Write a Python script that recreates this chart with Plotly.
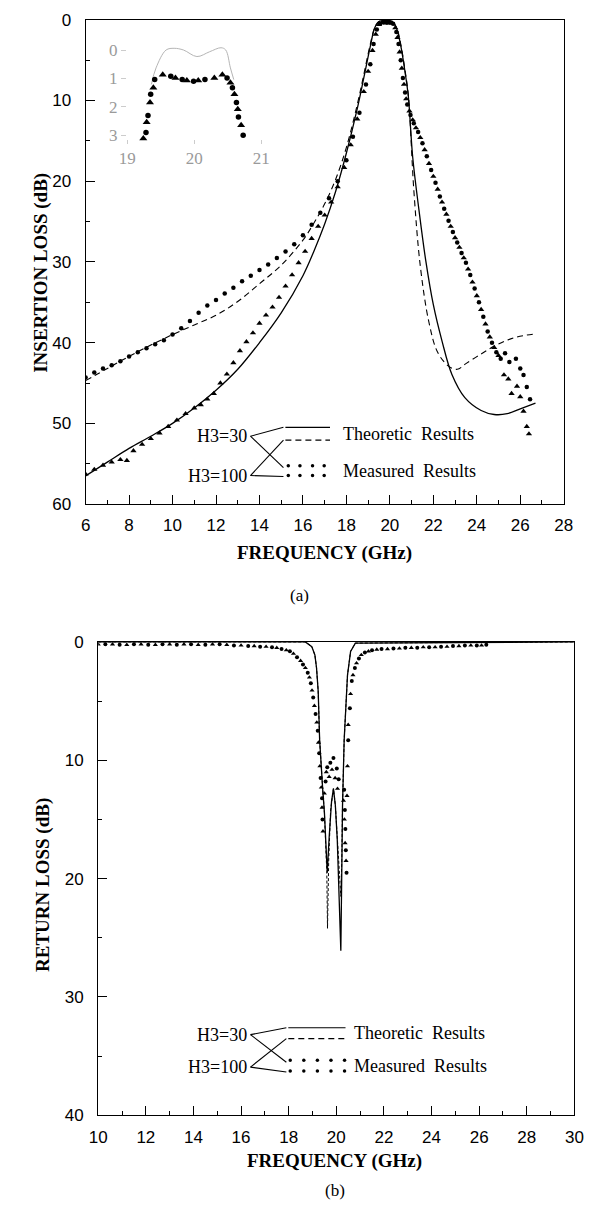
import plotly.graph_objects as go

W, H = 596, 1210

# ---------------- DATA : (a) insertion loss ----------------
il_th30_f = [6, 7, 8, 9, 10, 11, 12, 13, 14, 15, 16, 16.5, 17, 17.5, 18, 18.5, 18.8, 19.1, 19.3, 19.5, 19.8,
             20.1, 20.3, 20.5, 20.7, 20.85, 21.05, 21.35, 21.65, 22.0, 22.4, 22.85, 23.45, 24.2, 24.8, 25.4, 26.0, 26.7]
il_th30_db = [56.5, 54.8, 53.1, 51.6, 50.0, 48.1, 45.9, 43.3, 40.0, 36.3, 31.7, 28.7, 25.3, 21.3, 16.5, 11.0, 7.2,
              3.3, 1.0, 0.2, 0.1, 0.2, 1.0, 3.2, 6.5, 9.5, 17.0, 23.8, 29.8, 35.3, 39.8, 43.9, 46.8, 48.4, 48.9,
              48.8, 48.2, 47.5]

il_th100_f = [6, 7, 8, 9, 10, 11, 12, 13, 14, 15, 16, 16.5, 17, 17.5, 18, 18.5, 18.8, 19.1, 19.3, 19.5, 19.8,
              20.1, 20.3, 20.5, 20.7, 20.85, 21.1, 21.4, 21.8, 22.2, 22.7, 23.1, 23.5, 24.2, 24.9, 25.7, 26.7]
il_th100_db = [44.7, 43.2, 41.7, 40.3, 39.0, 37.8, 36.6, 34.9, 32.7, 30.4, 27.3, 25.2, 22.8, 19.8, 15.8, 10.5, 6.8,
               3.0, 1.0, 0.2, 0.1, 0.2, 0.9, 3.0, 6.3, 9.3, 21.0, 30.5, 37.5, 41.2, 42.9, 43.3, 42.6, 41.4, 40.3,
               39.4, 38.9]

il_me100_f = [6.0, 6.4, 6.8, 7.2, 7.6, 8.0, 8.4, 8.8, 9.2, 9.6, 10.0, 10.4, 10.8, 11.2, 11.6, 12.0, 12.4, 12.8,
              13.2, 13.6, 14.0, 14.4, 14.8, 15.2, 15.6, 16.0, 16.4, 16.8, 17.2, 17.6, 18.0, 18.3, 18.6, 18.9, 19.1,
              19.25, 19.4, 19.55, 19.7, 19.85, 20.0, 20.15, 20.3, 20.4, 20.5, 20.6, 20.7, 20.8, 20.95, 21.1, 21.3,
              21.5, 21.7, 21.9, 22.1, 22.3, 22.5, 22.7, 22.9, 23.1, 23.3, 23.5, 23.7, 23.9, 24.1, 24.3, 24.5, 24.7,
              24.9, 25.1, 25.3, 25.5, 25.8, 26.0, 26.15, 26.3, 26.45]
il_me100_db = [44.3, 43.7, 43.2, 42.8, 42.3, 41.7, 41.2, 40.7, 40.2, 39.7, 39.0, 38.2, 37.3, 36.3, 35.4, 34.7, 33.9,
               33.2, 32.4, 31.7, 31.0, 30.3, 29.5, 28.7, 27.8, 26.7, 25.4, 23.9, 22.1, 20.0, 17.4, 14.5, 11.5, 8.0,
               5.5, 3.0, 1.2, 0.5, 0.3, 0.3, 0.3, 0.5, 1.5, 3.0, 5.0, 7.2, 9.0, 10.5, 11.8, 12.8, 13.9, 15.3, 16.9,
               18.6, 20.2, 21.9, 23.4, 24.9, 26.3, 27.6, 28.9, 30.1, 31.6, 33.3, 35.0, 36.8, 38.6, 40.0, 41.2, 42.0,
               41.3, 42.4, 42.0, 43.2, 44.0, 45.5, 47.0]

il_me30_f = [6.0, 6.4, 6.8, 7.2, 7.6, 7.9, 8.2, 8.6, 9.0, 9.4, 9.8, 10.2, 10.6, 11.0, 11.3, 11.6, 11.9, 12.2, 12.5,
             12.8, 13.1, 13.4, 13.7, 14.0, 14.3, 14.6, 14.9, 15.2, 15.5, 15.8, 16.1, 16.4, 16.7, 17.0, 17.3, 17.6,
             17.9, 18.2, 18.5, 18.8, 19.0, 19.2, 19.35, 19.5, 19.65, 19.8, 19.95, 20.1, 20.25, 20.35, 20.45, 20.55,
             20.65, 20.75, 20.9, 21.05, 21.2, 21.4, 21.6, 21.8, 22.0, 22.2, 22.4, 22.6, 22.8, 23.0, 23.2, 23.4, 23.6,
             23.8, 24.0, 24.2, 24.4, 24.6, 24.8, 25.0, 25.25, 25.45, 25.6, 25.85, 26.0, 26.15, 26.3, 26.4]
il_me30_db = [56.3, 55.7, 55.2, 54.8, 54.5, 54.6, 53.4, 52.6, 51.9, 51.2, 50.4, 49.6, 48.8, 48.1, 47.7, 47.0, 46.3,
              45.0, 43.9, 42.5, 41.0, 39.9, 38.8, 37.6, 36.6, 35.6, 34.4, 33.0, 31.6, 30.1, 28.7, 27.1, 25.6, 24.2,
              22.6, 20.7, 18.3, 15.5, 12.3, 8.9, 6.4, 3.8, 1.8, 0.6, 0.3, 0.4, 0.4, 0.4, 1.0, 2.2, 4.0, 6.0, 8.0,
              9.8, 11.3, 12.4, 13.4, 14.6, 16.1, 17.8, 19.4, 21.0, 22.6, 24.1, 25.6, 27.0, 28.2, 29.5, 30.9, 32.5,
              34.2, 35.9, 37.7, 39.3, 40.6, 41.6, 44.0, 44.5, 46.3, 45.4, 46.7, 48.5, 50.4, 51.3]

# inset (passband detail)
ins_th_f = [19.36, 19.43, 19.58, 19.7, 19.84, 20.04, 20.23, 20.4, 20.47, 20.54, 20.59]
ins_th_db = [1.21, 0.63, 0.0, -0.06, 0.0, 0.23, 0.06, -0.08, 0.0, 0.63, 1.04]
ins_tri_f = [19.24, 19.29, 19.34, 19.39, 19.53, 19.72, 19.89, 20.06, 20.3, 20.42, 20.54, 20.6, 20.65, 20.7]
ins_tri_db = [3.11, 2.54, 1.85, 1.33, 0.87, 0.98, 1.07, 1.07, 0.98, 0.87, 1.15, 1.56, 2.08, 2.65]
ins_cir_f = [19.28, 19.31, 19.35, 19.41, 19.65, 19.82, 19.99, 20.16, 20.49, 20.57, 20.63, 20.66, 20.73]
ins_cir_db = [2.9, 2.3, 1.56, 1.04, 0.92, 1.04, 1.1, 1.04, 0.98, 1.33, 1.85, 2.36, 3.0]

# ---------------- DATA : (b) return loss ----------------
rl_th30_f = [10, 18.7, 18.97, 19.1, 19.17, 19.24, 19.3, 19.37, 19.43, 19.5, 19.57, 19.62, 19.7, 19.8, 19.88, 19.96,
             20.04, 20.12, 20.19, 20.23, 20.26, 20.33, 20.4, 20.47, 20.6, 20.8, 30]
rl_th30_db = [0, 0, 0.4, 1.1, 2.2, 4.2, 8.3, 11.1, 12.5, 14.4, 17.5, 19.5, 16.5, 13.5, 12.4, 13.8, 16.7, 21.0, 26.1,
              19.4, 13.9, 8.3, 5.0, 2.8, 0.8, 0.1, 0]
rl_th100_f = [10, 18.7, 18.97, 19.1, 19.17, 19.24, 19.3, 19.37, 19.43, 19.5, 19.6, 19.63, 19.68, 19.76, 19.88, 19.96,
              20.04, 20.12, 20.19, 20.23, 20.26, 20.33, 20.4, 20.47, 20.6, 20.8, 30]
rl_th100_db = [0, 0, 0.4, 1.1, 2.2, 4.2, 8.3, 11.1, 12.5, 14.4, 19.4, 24.2, 18.5, 14.2, 12.4, 13.8, 16.7, 19.5, 21.5,
               18.5, 13.9, 8.3, 5.0, 2.8, 0.8, 0.1, 0]

rl_me100_f = [10.3, 10.9, 11.5, 12.1, 12.7, 13.3, 13.9, 14.5, 15.1, 15.7, 16.3, 16.8, 17.3, 17.7, 18.05, 18.35, 18.6,
              18.8, 18.93, 19.03, 19.13, 19.22, 19.28, 19.34, 19.4, 19.42, 19.55, 19.62, 19.75, 19.88, 20.02, 20.1,
              20.33, 20.36, 20.38, 20.4, 20.43, 20.5, 20.57, 20.65, 20.78, 20.95, 21.2, 21.5, 21.9, 22.4, 22.9,
              23.4, 23.9, 24.4, 24.9, 25.4, 25.9, 26.3]
rl_me100_db = [0.2, 0.25, 0.2, 0.25, 0.2, 0.25, 0.2, 0.25, 0.2, 0.3, 0.35, 0.4, 0.45, 0.6, 0.8, 1.3, 1.9, 2.6, 3.5,
               4.7, 6.1, 7.5, 9.4, 11.5, 13.2, 15.0, 11.8, 10.6, 10.2, 9.8, 10.7, 11.6, 12.5, 14.2, 15.8, 17.6, 19.5,
               8.3, 5.6, 3.3, 2.2, 1.4, 0.9, 0.7, 0.6, 0.55, 0.5, 0.5, 0.45, 0.4, 0.35, 0.3, 0.3, 0.25]
rl_me30_f = [10.0, 10.6, 11.2, 11.8, 12.4, 13.0, 13.6, 14.2, 14.8, 15.4, 16.0, 16.55, 17.05, 17.5, 17.9, 18.2, 18.5,
             18.7, 18.87, 18.98, 19.08, 19.18, 19.25, 19.31, 19.37, 19.4, 19.44, 19.5, 19.58, 19.7, 19.82, 19.95,
             20.05, 20.3, 20.34, 20.37, 20.41, 20.45, 20.47, 20.5, 20.6, 20.7, 20.85, 21.05, 21.35, 21.7, 22.15,
             22.65, 23.15, 23.65, 24.15, 24.65, 25.15, 25.65, 26.1]
rl_me30_db = [0.2, 0.2, 0.25, 0.2, 0.25, 0.2, 0.2, 0.25, 0.2, 0.25, 0.3, 0.35, 0.4, 0.5, 0.7, 1.0, 1.6, 2.2, 3.0,
              4.1, 5.4, 6.8, 8.5, 10.5, 12.3, 14.0, 16.0, 12.8, 11.0, 11.4, 10.8, 11.5, 12.4, 13.4, 15.0, 17.0,
              18.5, 13.0, 10.5, 7.0, 4.4, 2.8, 1.8, 1.1, 0.8, 0.65, 0.6, 0.55, 0.5, 0.45, 0.45, 0.4, 0.35, 0.3, 0.3]

# ---------------- LAYOUT HELPERS ----------------
def fx(p):
    return p / W


def fy(p):
    return 1 - p / H


TOP = (79, 572, 11, 503)
BOT = (92, 583, 643, 1124)
INS = (115, 267, 33, 137)

TICKFONT = dict(family="Liberation Sans Narrow, Arial Narrow, Liberation Sans, Arial, sans-serif", size=17,
                color="black")
SERIF = "Liberation Serif, Times New Roman, serif"

fig = go.Figure()

line_solid = dict(color="black", width=1.3)
line_dash = dict(color="black", width=1.1, dash="6px,4px")
mk_cir = dict(symbol="circle", size=4.5, color="black")
mk_tri = dict(symbol="triangle-up", size=5.5, color="black")

# (a)
fig.add_trace(go.Scatter(x=il_th30_f, y=il_th30_db, mode="lines", line=line_solid, line_shape="spline",
                         xaxis="x", yaxis="y", name="H3=30 theoretic"))
fig.add_trace(go.Scatter(x=il_th100_f, y=il_th100_db, mode="lines", line=line_dash, line_shape="spline",
                         xaxis="x", yaxis="y", name="H3=100 theoretic"))
fig.add_trace(go.Scatter(x=il_me100_f, y=il_me100_db, mode="markers", marker=mk_cir,
                         xaxis="x", yaxis="y", name="H3=100 measured"))
fig.add_trace(go.Scatter(x=il_me30_f, y=il_me30_db, mode="markers", marker=mk_tri,
                         xaxis="x", yaxis="y", name="H3=30 measured"))

# inset
fig.add_trace(go.Scatter(x=ins_th_f, y=ins_th_db, mode="lines", line=dict(color="#b5b5b5", width=1),
                         line_shape="spline", xaxis="x3", yaxis="y3"))
fig.add_trace(go.Scatter(x=ins_tri_f, y=ins_tri_db, mode="markers",
                         marker=dict(symbol="triangle-up", size=7, color="black"), xaxis="x3", yaxis="y3"))
fig.add_trace(go.Scatter(x=ins_cir_f, y=ins_cir_db, mode="markers",
                         marker=dict(symbol="circle", size=5.5, color="black"), xaxis="x3", yaxis="y3"))

# (b)
fig.add_trace(go.Scatter(x=rl_th100_f, y=rl_th100_db, mode="lines", line=dict(color="black", width=1, dash="3px,2px"),
                         xaxis="x2", yaxis="y2"))
fig.add_trace(go.Scatter(x=rl_th30_f, y=rl_th30_db, mode="lines", line=line_solid,
                         xaxis="x2", yaxis="y2"))
fig.add_trace(go.Scatter(x=rl_me100_f, y=rl_me100_db, mode="markers", marker=dict(symbol="circle", size=4, color="black"),
                         xaxis="x2", yaxis="y2"))
fig.add_trace(go.Scatter(x=rl_me30_f, y=rl_me30_db, mode="markers",
                         marker=dict(symbol="triangle-up", size=4.5, color="black"), xaxis="x2", yaxis="y2"))


def axis_common():
    return dict(showline=True, linecolor="black", linewidth=1.2, mirror=True, ticks="inside", ticklen=9,
                tickwidth=1.2, tickcolor="black", showgrid=False, zeroline=False, tickfont=TICKFONT)


xa = axis_common()
xa.update(domain=[fx(TOP[0]), fx(TOP[1])], range=[6, 28], tick0=6, dtick=2, anchor="y",
          minor=dict(dtick=1, ticks="inside", ticklen=4, tickcolor="black", tickwidth=1),
          ticklabelstandoff=5)
ya = axis_common()
ya.update(domain=[fy(TOP[3]), fy(TOP[2])], range=[60, 0], tick0=0, dtick=10, anchor="x",
          minor=dict(dtick=5, ticks="inside", ticklen=4, tickcolor="black", tickwidth=1),
          ticklabelstandoff=10)
xb = axis_common()
xb.update(domain=[fx(BOT[0]), fx(BOT[1])], range=[10, 30], tick0=10, dtick=2, anchor="y2",
          minor=dict(dtick=1, ticks="inside", ticklen=4, tickcolor="black", tickwidth=1),
          ticklabelstandoff=6)
yb = axis_common()
yb.update(domain=[fy(BOT[3]), fy(BOT[2])], range=[40, 0], tick0=0, dtick=10, anchor="x2",
          minor=dict(dtick=5, ticks="inside", ticklen=4, tickcolor="black", tickwidth=1),
          ticklabelstandoff=10)

insfont = dict(family=SERIF, size=17, color="#9a9a9a")
xi = dict(domain=[fx(INS[0]), fx(INS[1])], range=[18.9, 21.1], tickvals=[19, 20, 21], anchor="y3",
          showline=False, showgrid=False, zeroline=False, ticks="inside", ticklen=4, tickcolor="#cccccc",
          tickfont=insfont, ticklabelstandoff=2)
yi = dict(domain=[fy(INS[3]), fy(INS[2])], range=[3.3, -0.3], tickvals=[0, 1, 2, 3], anchor="x3",
          showline=False, showgrid=False, zeroline=False, ticks="inside", ticklen=5, tickcolor="#cccccc",
          tickfont=insfont, ticklabelstandoff=2)

annotations = []


def text(x, y, s, size=17, bold=False, family=SERIF, xanchor="center", angle=0):
    annotations.append(dict(xref="paper", yref="paper", x=fx(x), y=fy(y), text=("<b>%s</b>" % s) if bold else s,
                            showarrow=False, xanchor=xanchor, yanchor="middle", textangle=angle,
                            font=dict(family=family, size=size, color="black")))


text(325, 553, "FREQUENCY (GHz)", size=19, bold=True)
text(300, 596, "(a)", size=17)
text(33, 268, "INSERTION LOSS (dB)", size=19, bold=True, angle=-90)
text(336, 1170, "FREQUENCY (GHz)", size=19, bold=True)
text(336, 1200, "(b)", size=17)
text(35, 890, "RETURN LOSS (dB)", size=19, bold=True, angle=-90)

shapes = []


def seg(x0, y0, x1, y1, dash=None, width=1.1):
    ln = dict(color="black", width=width)
    if dash:
        ln["dash"] = dash
    shapes.append(dict(type="line", xref="paper", yref="paper", x0=fx(x0), y0=fy(y0), x1=fx(x1), y1=fy(y1),
                       line=ln))


def dot(x, y, r=1.8):
    shapes.append(dict(type="circle", xref="paper", yref="paper", x0=fx(x - r), x1=fx(x + r), y0=fy(y + r),
                       y1=fy(y - r), fillcolor="black", line=dict(width=0)))


def legend(yt, ym, lx_end, sx0, sx1, ys, yd, yr1, yr2, dotx, tx, lab30, lab100):
    text(lx_end, yt, lab30, size=18, xanchor="right")
    text(lx_end, ym, lab100, size=18, xanchor="right")
    seg(lx_end + 2, yt, sx0 - 2, ys)
    seg(lx_end + 2, yt, sx0 - 2, yr1 + 2)
    seg(lx_end + 2, ym, sx0 - 2, yd)
    seg(lx_end + 2, ym, sx0 - 2, yr2 + 1)
    seg(sx0, ys, sx1, ys)
    seg(sx0, yd, sx1, yd, dash="6px,4px")
    for dx in dotx:
        dot(dx, yr1)
        dot(dx, yr2)
    text(tx, (ys + yd) / 2, "Theoretic  Results", size=18, xanchor="left")
    text(tx, (yr1 + yr2) / 2, "Measured  Results", size=18, xanchor="left")


legend(434, 474, 247, 285, 331, 425, 438, 464, 474, [288, 300, 313, 325], 342, "H3=30", "H3=100")
legend(1042, 1075, 247, 288, 347, 1035, 1046, 1068, 1079, [290, 304, 318, 332, 346], 354, "H3=30", "H3=100")

fig.update_layout(
    width=W, height=H, margin=dict(l=0, r=0, t=0, b=0), paper_bgcolor="white", plot_bgcolor="rgba(0,0,0,0)",
    showlegend=False, xaxis=xa, yaxis=ya, xaxis2=xb, yaxis2=yb, xaxis3=xi, yaxis3=yi,
    annotations=annotations, shapes=shapes,
)

fig.write_html("out.html")
